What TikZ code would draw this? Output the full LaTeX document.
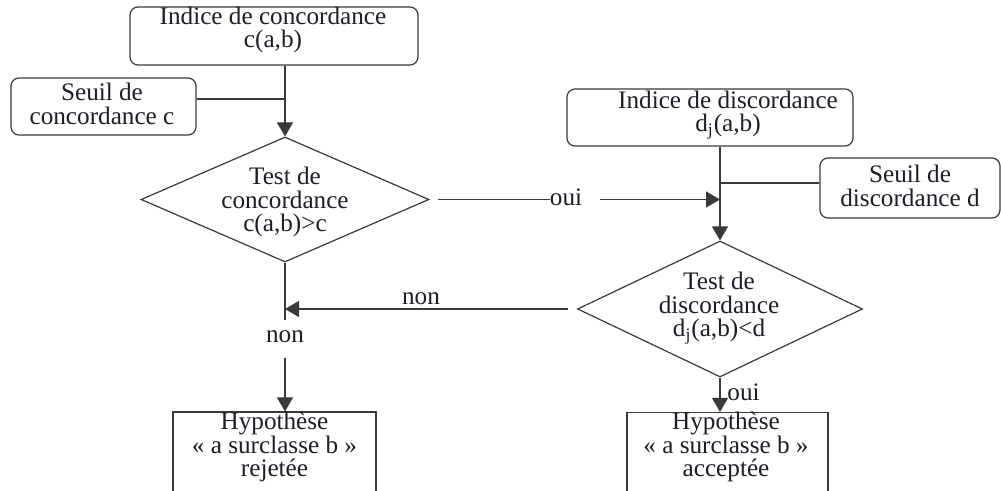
\documentclass[tikz,border=0pt]{standalone}
\usepackage{fontspec}
\setmainfont{Liberation Serif}
\usetikzlibrary{shapes.geometric,arrows.meta}
\definecolor{ln}{HTML}{3A3A3A}
\definecolor{tx}{HTML}{1E1E28}
\tikzset{
  rbox/.style={draw=ln,line width=0.6pt,rounded corners=4pt,fill=white,inner sep=0pt},
  sbox/.style={draw=ln,line width=0.6pt,fill=white,inner sep=0pt},
  dia/.style={draw=ln,line width=0.6pt,diamond,inner sep=0pt,fill=white},
  txt/.style={text=tx,align=center,inner sep=0pt,font=\fontsize{12.6pt}{11.9pt}\selectfont},
  conn/.style={draw=ln,line width=0.6pt},
  arr/.style={conn,-{Triangle[width=8pt,length=7pt]}}
}
\begin{document}
\begin{tikzpicture}[x=0.5pt,y=-0.5pt]
\useasboundingbox (0,0) rectangle (1001,491);
\fill[white] (0,0) rectangle (1001,491);
\clip (0,0) rectangle (1001,491);
% frames
\node[rbox,minimum width=144pt,minimum height=29pt] (b1) at (274,36) {};
\node[rbox,minimum width=92.5pt,minimum height=28.5pt] (b2) at (103.5,106.5) {};
\node[dia,minimum width=144pt,minimum height=62.5pt] (d1) at (285,199.5) {};
\node[rbox,minimum width=143pt,minimum height=28.5pt] (bdi) at (710,117.5) {};
\node[rbox,minimum width=90pt,minimum height=30pt] (bsd) at (910,188) {};
\node[dia,minimum width=142.5pt,minimum height=68pt] (d2) at (720,309) {};
\node[sbox,minimum width=101.5pt,minimum height=44pt] (b3) at (274.5,456) {};
\node[sbox,minimum width=100.5pt,minimum height=44pt] (b4) at (727.5,456.5) {};
% texts
\node[txt] (t1) at (273,30) {Indice de concordance\\c(a,b)};
\node[txt] (t2) at (102,104) {Seuil de\\concordance c};
\node[txt] (td1) at (285,202) {Test de\\concordance\\c(a,b)>c};
\node[txt] (tdi) at (728,115) {Indice de discordance\\d\textsubscript{j}(a,b)};
\node[txt] (tsd) at (910,186) {Seuil de\\discordance d};
\node[txt] (td2) at (719,308) {Test de\\discordance\\d\textsubscript{j}(a,b)<d};
\node[txt] (t3) at (274.5,447) {Hypothèse\\« a surclasse b »\\rejetée};
\node[txt] (t4) at (726,447) {Hypothèse\\« a surclasse b »\\acceptée};
% labels
\node[txt] (oui1) at (566,197) {oui};
\node[txt] (non1) at (421,299) {non};
\node[txt] (non2) at (285,337) {non};
\node[txt,anchor=west] (oui2) at (727,392) {oui};
% coordinates
\coordinate (j1) at (285,99);
\coordinate (j2) at (720,183);
\coordinate (n2a) at (285,320);
\coordinate (n2b) at (285,358);
% connectors
\draw[arr] (d1.north |- b1.south) -- (d1.north);
\draw[conn] (b2.east |- j1) -- (j1);
\draw[arr] (d2.north |- bdi.south) -- (d2.north);
\draw[conn] (bsd.west |- j2) -- (j2);
\draw[conn] ([xshift=4pt]d1.east) -- (d1.east -| oui1.west);
\draw[arr] ([xshift=8.5pt]oui1.east |- d1.east) -- (d2.north |- d1.east);
\draw[arr] ([xshift=-4.5pt]d2.west) -- (d1.south |- d2.west);
\draw[conn] (d1.south) -- (n2a);
\draw[arr] (n2b) -- (n2b |- b3.north);
\draw[arr] (d2.south) -- (d2.south |- b4.north);
\end{tikzpicture}
\end{document}
